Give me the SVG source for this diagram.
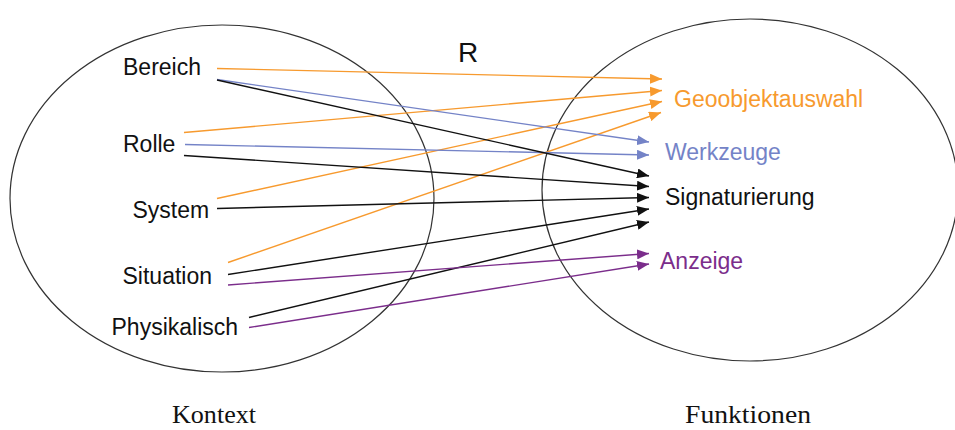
<svg xmlns="http://www.w3.org/2000/svg" width="955" height="430" viewBox="0 0 955 430">
<style>
.ell{fill:none;stroke:#333;stroke-width:1.2}
.lbl{font-family:"Liberation Sans",Arial,sans-serif;font-size:23px;fill:#111}
.cap{font-family:"Liberation Serif","Times New Roman",serif;font-size:26px;fill:#111}
.r{font-family:"Liberation Sans",Arial,sans-serif;font-size:28px;fill:#111}
.o{stroke:#F79A2E}
.b{stroke:#7483C7}
.k{stroke:#111}
.p{stroke:#7B2D8B}
#conn line{stroke-width:1.4;fill:none}
</style>
<defs>
<marker id="aO" viewBox="0 0 12 10" refX="12" refY="5" markerWidth="12" markerHeight="10" markerUnits="userSpaceOnUse" orient="auto"><path d="M0,0 L12,5 L0,10 z" fill="#F79A2E"/></marker>
<marker id="aB" viewBox="0 0 12 10" refX="12" refY="5" markerWidth="12" markerHeight="10" markerUnits="userSpaceOnUse" orient="auto"><path d="M0,0 L12,5 L0,10 z" fill="#7483C7"/></marker>
<marker id="aK" viewBox="0 0 12 10" refX="12" refY="5" markerWidth="12" markerHeight="10" markerUnits="userSpaceOnUse" orient="auto"><path d="M0,0 L12,5 L0,10 z" fill="#111"/></marker>
<marker id="aP" viewBox="0 0 12 10" refX="12" refY="5" markerWidth="12" markerHeight="10" markerUnits="userSpaceOnUse" orient="auto"><path d="M0,0 L12,5 L0,10 z" fill="#7B2D8B"/></marker>
</defs>
<rect width="955" height="430" fill="#fff"/>
<g id="kontext">
<ellipse class="ell" cx="222" cy="198.5" rx="212" ry="173.5"/>
<text class="cap" x="172" y="423" textLength="84" lengthAdjust="spacingAndGlyphs">Kontext</text>
</g>
<g id="funktionen">
<ellipse class="ell" cx="750" cy="190" rx="208" ry="171"/>
<text class="cap" x="685" y="423" textLength="126" lengthAdjust="spacingAndGlyphs">Funktionen</text>
</g>
<g id="relation"><text class="r" x="458" y="62">R</text></g>
<g id="bereich"><text class="lbl" x="123" y="75">Bereich</text></g>
<g id="rolle"><text class="lbl" x="123" y="151.5">Rolle</text></g>
<g id="system"><text class="lbl" x="132.5" y="218">System</text></g>
<g id="situation"><text class="lbl" x="122.5" y="284">Situation</text></g>
<g id="physikalisch"><text class="lbl" x="111.5" y="335">Physikalisch</text></g>
<g id="geoobjektauswahl"><text class="lbl" x="674" y="107" fill="#F79A2E" style="fill:#F79A2E">Geoobjektauswahl</text></g>
<g id="werkzeuge"><text class="lbl" x="665" y="160" style="fill:#7483C7">Werkzeuge</text></g>
<g id="signaturierung"><text class="lbl" x="665" y="205">Signaturierung</text></g>
<g id="anzeige"><text class="lbl" x="660" y="269" style="fill:#7B2D8B">Anzeige</text></g>
<g id="conn">
<line class="o" x1="217" y1="68.5" x2="662" y2="79" marker-end="url(#aO)"/>
<line class="o" x1="184" y1="132.5" x2="662" y2="90.5" marker-end="url(#aO)"/>
<line class="o" x1="217" y1="198.5" x2="662" y2="101.5" marker-end="url(#aO)"/>
<line class="o" x1="228" y1="262.5" x2="661" y2="112.5" marker-end="url(#aO)"/>
<line class="b" x1="217" y1="79.5" x2="649" y2="142" marker-end="url(#aB)"/>
<line class="b" x1="185" y1="144.5" x2="649" y2="155" marker-end="url(#aB)"/>
<line class="k" x1="217" y1="80" x2="649" y2="176" marker-end="url(#aK)"/>
<line class="k" x1="184" y1="155.5" x2="649" y2="186.5" marker-end="url(#aK)"/>
<line class="k" x1="217" y1="208.5" x2="649" y2="197.5" marker-end="url(#aK)"/>
<line class="k" x1="228" y1="274.5" x2="649" y2="209" marker-end="url(#aK)"/>
<line class="k" x1="249" y1="317.5" x2="649" y2="222" marker-end="url(#aK)"/>
<line class="p" x1="228" y1="285" x2="649" y2="253.5" marker-end="url(#aP)"/>
<line class="p" x1="249" y1="327.5" x2="649" y2="264" marker-end="url(#aP)"/>
</g>
</svg>
